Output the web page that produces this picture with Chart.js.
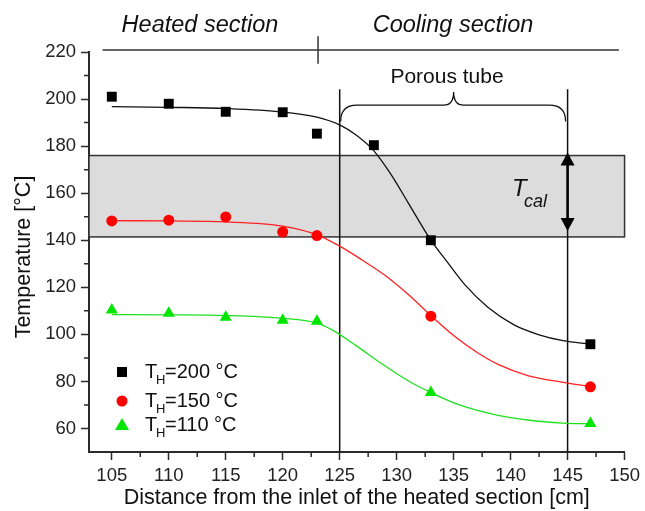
<!DOCTYPE html>
<html>
<head>
<meta charset="utf-8">
<script src="https://cdn.jsdelivr.net/npm/chart.js@4.4.1/dist/chart.umd.min.js"></script>
<style>
  body { margin: 0; background: #fff; }
  #wrap { width: 645px; height: 511px; }
</style>
</head>
<body>
<div id="wrap"><canvas id="chart" width="645" height="511"></canvas></div>
<script>
// Measured points (distance cm -> temperature C)
const xPts200 = [105, 110, 115, 120, 123, 128, 133, 147];
const th200 = [201, 198, 194.6, 194.4, 185.3, 180.4, 140, 95.8];
const xPts = [105, 110, 115, 120, 123, 133, 147];
const th150 = [148.2, 148.5, 149.9, 143.5, 142, 107.7, 77.7];
const th110 = [110.3, 109, 107.3, 106, 105.6, 75.3, 62.1];

// Fitted curves
const fitX200 = [105, 110, 115, 120, 123, 125, 126.5, 128, 129.5, 131, 133, 134.4, 136, 138, 140.3, 142.5, 144.6, 147];
const fit200 = [196.8, 196.5, 196, 194.5, 192.3, 189, 184.5, 178, 168, 156, 140, 131, 121, 111.5, 104, 99.8, 97.3, 95.8];
const fitX150 = [105, 110, 115, 120, 123, 125, 127, 129, 131, 133, 135, 137, 139, 141.5, 144.6, 147];
const fit150 = [148.3, 148.2, 147.8, 146, 142.3, 137.5, 131.5, 125, 117, 108, 99.5, 92.5, 87, 82.5, 79.6, 77.8];
const fitX110 = [105, 110, 115, 120, 123, 124.3, 126.5, 128.7, 131, 133, 135.5, 138.8, 141.5, 144.6, 147];
const fit110 = [108.4, 108.3, 108, 106.8, 104.8, 102, 95, 87.5, 80.3, 75.3, 70, 65.7, 63.6, 62.3, 62];

// Axis ticks
const xMajor = [105, 110, 115, 120, 125, 130, 135, 140, 145, 150];
const yMajor = [60, 80, 100, 120, 140, 160, 180, 200, 220];

// Annotation values
const bandLow = 141.4, bandHigh = 176;
const tubeStart = 125, tubeEnd = 145;
const sectionSplit = 123.1;

const FONT = 'Arial, "Liberation Sans", sans-serif';
const AXIS = '#2b2b2b';

const pts = (xs, ys) => xs.map((x, i) => ({ x: x, y: ys[i] }));

const decor = {
    id: 'decor',
    beforeDatasetsDraw(chart) {
        const { ctx, chartArea: a, scales: { x, y } } = chart;
        const px = v => x.getPixelForValue(v);
        const py = v => y.getPixelForValue(v);
        ctx.save();

        // gray band
        ctx.fillStyle = '#dcdcdc';
        ctx.fillRect(a.left, py(bandHigh), px(150) - a.left, py(bandLow) - py(bandHigh));
        ctx.strokeStyle = '#333';
        ctx.lineWidth = 1.5;
        ctx.strokeRect(a.left, py(bandHigh), px(150) - a.left, py(bandLow) - py(bandHigh));

        // porous tube limits
        ctx.strokeStyle = '#111';
        ctx.lineWidth = 1.5;
        [tubeStart, tubeEnd].forEach(v => {
            ctx.beginPath();
            ctx.moveTo(px(v), py(204.2));
            ctx.lineTo(px(v), a.bottom);
            ctx.stroke();
        });

        // brace
        const xl = px(tubeStart) + 1, xr = px(tubeEnd) - 2, xm = px(135);
        const yEnd = py(190.5), yBar = py(197.4), yPeak = py(203);
        const r = yEnd - yBar;
        ctx.lineWidth = 1.3;
        ctx.beginPath();
        ctx.moveTo(xl, yEnd);
        ctx.quadraticCurveTo(xl, yBar, xl + r, yBar);
        ctx.lineTo(xm - 10, yBar);
        ctx.quadraticCurveTo(xm, yBar, xm, yPeak);
        ctx.quadraticCurveTo(xm, yBar, xm + 10, yBar);
        ctx.lineTo(xr - r, yBar);
        ctx.quadraticCurveTo(xr, yBar, xr, yEnd);
        ctx.stroke();

        // section line on top
        ctx.strokeStyle = '#333';
        ctx.lineWidth = 1.5;
        ctx.beginPath();
        ctx.moveTo(px(104.2), py(220.9));
        ctx.lineTo(px(149.5), py(220.9));
        ctx.moveTo(px(sectionSplit), py(226.7));
        ctx.lineTo(px(sectionSplit), py(215));
        ctx.stroke();

        // texts
        ctx.fillStyle = '#111';
        ctx.textAlign = 'center';
        ctx.textBaseline = 'middle';
        ctx.font = 'italic 23.5px ' + FONT;
        ctx.fillText('Heated section', 200, 25);
        ctx.fillText('Cooling section', 453, 25);
        ctx.font = '21px ' + FONT;
        ctx.fillText('Porous tube', 447, 77);

        // minor ticks
        ctx.strokeStyle = AXIS;
        ctx.lineWidth = 1.5;
        ctx.beginPath();
        for (let v = 107.5; v < 150; v += 5) {
            ctx.moveTo(px(v), a.bottom);
            ctx.lineTo(px(v), a.bottom + 5);
        }
        for (let v = 70; v < 220; v += 20) {
            ctx.moveTo(a.left, py(v));
            ctx.lineTo(a.left - 5, py(v));
        }
        ctx.stroke();

        // axis titles
        ctx.fillStyle = '#111';
        ctx.font = '21.5px ' + FONT;
        ctx.fillText('Distance from the inlet of the heated section [cm]', (a.left + a.right) / 2, 498);
        ctx.translate(24, 257);
        ctx.rotate(-Math.PI / 2);
        ctx.fillText('Temperature [°C]', 0, 0);
        ctx.restore();
    },
    afterDatasetsDraw(chart) {
        const { ctx, scales: { x, y } } = chart;
        const px = v => x.getPixelForValue(v);
        const py = v => y.getPixelForValue(v);
        ctx.save();

        // T_cal double arrow
        const ax = px(tubeEnd);
        const top = py(bandHigh) - 3, bot = py(bandLow) - 6;
        ctx.strokeStyle = '#000';
        ctx.fillStyle = '#000';
        ctx.lineWidth = 2.5;
        ctx.beginPath();
        ctx.moveTo(ax, top + 10);
        ctx.lineTo(ax, bot - 10);
        ctx.stroke();
        ctx.beginPath();
        ctx.moveTo(ax, top);
        ctx.lineTo(ax - 7, top + 13);
        ctx.lineTo(ax + 7, top + 13);
        ctx.closePath();
        ctx.fill();
        ctx.beginPath();
        ctx.moveTo(ax, bot);
        ctx.lineTo(ax - 7, bot - 13);
        ctx.lineTo(ax + 7, bot - 13);
        ctx.closePath();
        ctx.fill();

        ctx.fillStyle = '#111';
        ctx.textAlign = 'left';
        ctx.textBaseline = 'middle';
        ctx.font = 'italic 24px ' + FONT;
        ctx.fillText('T', 512, 189);
        ctx.font = 'italic 18px ' + FONT;
        ctx.fillText('cal', 524, 202);

        // legend
        const rows = [
            { label: '200', color: '#000', shape: 'rect', y: 372 },
            { label: '150', color: '#ff0000', shape: 'circle', y: 401 },
            { label: '110', color: '#00e600', shape: 'triangle', y: 425 }
        ];
        rows.forEach(r => {
            ctx.fillStyle = r.color;
            ctx.beginPath();
            if (r.shape === 'rect') ctx.rect(117, r.y - 5, 10, 10);
            if (r.shape === 'circle') ctx.arc(122, r.y, 5.5, 0, Math.PI * 2);
            if (r.shape === 'triangle') { ctx.moveTo(122, r.y - 7); ctx.lineTo(129, r.y + 5); ctx.lineTo(115, r.y + 5); ctx.closePath(); }
            ctx.fill();
            ctx.fillStyle = '#111';
            ctx.font = '20px ' + FONT;
            ctx.fillText('T', 145, r.y);
            ctx.font = '13px ' + FONT;
            ctx.fillText('H', 156, r.y + 8);
            ctx.font = '20px ' + FONT;
            ctx.fillText('=' + r.label + ' \u00B0C', 165, r.y);
        });
        ctx.restore();
    }
};

new Chart(document.getElementById('chart'), {
    type: 'scatter',
    data: {
        datasets: [
            { data: pts(xPts200, th200), pointStyle: 'rect', pointRadius: 7, backgroundColor: '#000', borderWidth: 0 },
            { data: pts(xPts, th150), pointStyle: 'circle', pointRadius: 5.5, backgroundColor: '#ff0000', borderWidth: 0 },
            { data: pts(xPts, th110), pointStyle: 'triangle', pointRadius: 7, backgroundColor: '#00e600', borderWidth: 0 },
            { data: pts(fitX200, fit200), showLine: true, pointRadius: 0, borderColor: '#111', borderWidth: 1.3, cubicInterpolationMode: 'monotone' },
            { data: pts(fitX150, fit150), showLine: true, pointRadius: 0, borderColor: '#ff2020', borderWidth: 1.3, cubicInterpolationMode: 'monotone' },
            { data: pts(fitX110, fit110), showLine: true, pointRadius: 0, borderColor: '#20e020', borderWidth: 1.3, cubicInterpolationMode: 'monotone' }
        ]
    },
    options: {
        responsive: false,
        animation: false,
        clip: false,
        layout: { padding: { top: 52, right: 17, left: 0, bottom: 0 } },
        plugins: { legend: { display: false }, tooltip: { enabled: false } },
        scales: {
            x: {
                type: 'linear', min: 103, max: 150,
                afterBuildTicks: s => { s.ticks = xMajor.map(v => ({ value: v })); },
                afterFit: s => { s.height = 59; },
                grid: { drawOnChartArea: false, tickLength: 8, tickColor: AXIS, tickWidth: 1.5 },
                border: { color: AXIS, width: 2 },
                ticks: { color: '#222', font: { size: 18.5, family: FONT }, padding: 5, maxRotation: 0, autoSkip: false }
            },
            y: {
                type: 'linear', min: 50, max: 220,
                afterBuildTicks: s => { s.ticks = yMajor.map(v => ({ value: v })); },
                afterFit: s => { s.width = 89; },
                grid: { drawOnChartArea: false, tickLength: 8, tickColor: AXIS, tickWidth: 1.5 },
                border: { color: AXIS, width: 2 },
                ticks: { color: '#222', font: { size: 18.5, family: FONT }, padding: 5, autoSkip: false }
            }
        }
    },
    plugins: [decor]
});
</script>
</body>
</html>
